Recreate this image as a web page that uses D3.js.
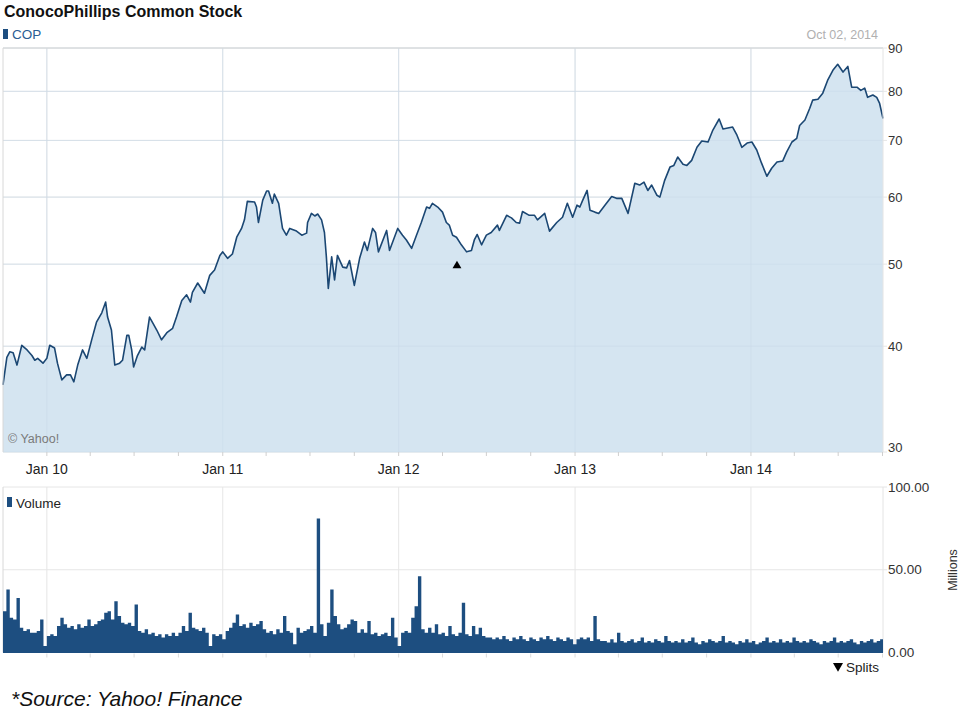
<!DOCTYPE html>
<html><head><meta charset="utf-8">
<script src="https://cdn.jsdelivr.net/npm/d3@7"></script>
<style>body{margin:0;background:#fff} svg{display:block} text{font-family:"Liberation Sans",Arial,sans-serif}</style>
</head><body><svg id="c" width="960" height="720"></svg>
<script>
// ---- Data ----
const priceDates = [
"2009-10-02","2009-10-10","2009-10-16","2009-10-23","2009-10-31","2009-11-10","2009-11-21","2009-12-01","2009-12-07","2009-12-13","2009-12-24",
"2010-01-01","2010-01-07","2010-01-17","2010-01-23","2010-02-01","2010-02-11","2010-02-19","2010-02-26","2010-03-06","2010-03-16","2010-03-25",
"2010-04-04","2010-04-14","2010-04-25","2010-05-03","2010-05-07","2010-05-15","2010-05-22","2010-06-01","2010-06-07","2010-06-16","2010-06-20",
"2010-06-26","2010-06-30","2010-07-08","2010-07-17","2010-07-23","2010-08-02","2010-08-09","2010-08-17","2010-08-27","2010-09-07","2010-09-19",
"2010-09-27","2010-10-08","2010-10-18","2010-10-26","2010-10-30","2010-11-10","2010-11-24","2010-12-05","2010-12-15","2010-12-26",
"2011-01-01","2011-01-11","2011-01-21","2011-01-30","2011-02-09","2011-02-15","2011-02-21","2011-03-08","2011-03-12","2011-03-16","2011-03-25",
"2011-04-02","2011-04-06","2011-04-14","2011-04-18","2011-04-27","2011-05-05","2011-05-13","2011-05-20","2011-06-03","2011-06-14","2011-06-24",
"2011-06-26","2011-07-04","2011-07-11","2011-07-17","2011-07-25","2011-07-31","2011-08-04","2011-08-08","2011-08-15","2011-08-21","2011-08-27",
"2011-09-07","2011-09-15","2011-09-21","2011-10-01","2011-10-12","2011-10-22","2011-10-28","2011-11-08","2011-11-14","2011-11-20","2011-12-07",
"2011-12-13","2011-12-30",
"2012-01-09","2012-01-17","2012-01-28","2012-02-07","2012-02-17","2012-02-28","2012-03-05","2012-03-11","2012-03-22","2012-04-01","2012-04-09",
"2012-04-15","2012-04-22","2012-04-30","2012-05-10","2012-05-21","2012-05-31","2012-06-06","2012-06-12","2012-06-21","2012-07-01","2012-07-11",
"2012-07-24","2012-07-28","2012-08-12","2012-08-22","2012-09-01","2012-09-08","2012-09-14","2012-09-28","2012-10-09","2012-10-15","2012-10-30",
"2012-11-09","2012-11-24","2012-12-06","2012-12-16","2012-12-27",
"2013-01-05","2013-01-11","2013-01-17","2013-01-26","2013-02-01","2013-02-11","2013-02-19","2013-03-04","2013-03-18","2013-03-28","2013-04-08",
"2013-04-21","2013-05-05","2013-05-15","2013-05-24","2013-06-01","2013-06-09","2013-06-20","2013-06-26","2013-07-06","2013-07-17","2013-07-25",
"2013-08-02","2013-08-13","2013-08-21","2013-08-31","2013-09-11","2013-09-21","2013-10-04","2013-10-14","2013-10-27","2013-11-04","2013-11-14",
"2013-11-24","2013-12-03","2013-12-13","2013-12-24",
"2014-01-03","2014-01-13","2014-01-23","2014-02-03","2014-02-13","2014-02-24","2014-03-08","2014-03-16","2014-03-27","2014-04-06","2014-04-12",
"2014-04-23","2014-05-03","2014-05-09","2014-05-20","2014-05-30","2014-06-09","2014-06-20","2014-06-30","2014-07-11","2014-07-21","2014-07-29",
"2014-08-09","2014-08-17","2014-08-25","2014-08-31","2014-09-11","2014-09-19","2014-09-25","2014-10-02"];
const priceValues = [
36.0,38.8,39.4,39.3,38.0,40.1,39.6,39.0,38.5,38.7,38.2,
38.7,40.1,39.8,38.2,36.5,37.0,37.0,36.3,38.0,39.6,38.7,
40.7,42.7,43.8,45.1,43.3,41.8,38.0,38.2,38.5,41.2,41.2,
39.6,37.8,39.0,39.9,39.6,43.3,42.6,41.8,40.7,41.5,42.0,
43.3,45.3,46.0,45.1,46.3,47.5,46.2,48.5,49.2,51.2,
51.7,50.8,51.4,53.8,55.1,56.4,59.3,59.2,58.4,56.0,59.5,
61.0,61.0,59.0,60.5,59.0,55.1,54.1,55.1,54.7,54.1,54.4,
56.0,57.4,57.0,57.3,56.4,54.5,51.0,46.8,51.0,47.9,51.2,
49.6,49.5,50.5,47.2,50.8,53.1,51.9,55.1,54.5,51.7,54.8,
51.9,55.1,
54.1,53.4,52.2,54.1,56.0,58.4,58.2,59.0,58.4,57.6,56.0,
55.6,54.1,53.8,52.7,51.7,51.9,53.4,54.2,52.7,54.1,54.5,
55.6,54.8,57.1,56.7,56.0,55.9,57.7,57.1,57.1,56.4,57.4,
54.7,56.0,56.8,59.0,56.8,
58.7,58.4,59.5,61.1,57.9,57.6,57.4,58.7,60.1,59.8,59.8,
57.4,62.3,62.0,62.5,61.1,62.0,60.3,60.0,62.8,65.1,65.4,
66.9,65.6,65.4,66.3,68.7,69.9,69.7,72.0,74.2,72.2,72.4,
72.6,71.0,68.7,69.5,
69.7,68.2,65.8,63.5,64.9,66.0,66.2,67.8,69.7,70.4,72.9,
74.0,76.4,78.1,78.3,79.6,82.4,84.7,86.1,84.3,85.6,80.9,
80.9,80.2,80.7,78.7,79.2,78.7,77.4,74.3];

// weekly volume (millions), one value per week starting at volumeStart
const volumeStart = "2009-10-02";
const volumeValues = [
25,38,21,20,33,15,13,14,12,12,13,20,4,
10,11,10,16,21,17,15,16,14,17,15,16,20,16,17,19,20,
24,25,20,31,22,18,17,18,16,29,13,12,14,11,12,10,11,9,11,10,12,10,12,
16,13,24,15,14,13,15,12,4,11,10,11,8,
13,15,18,23,16,17,15,18,16,17,19,14,12,13,11,14,12,22,13,12,5,15,12,13,14,16,12,
81,17,10,18,38,22,17,14,15,17,20,19,12,14,12,19,11,12,10,11,12,10,21,9,4,
12,13,12,21,28,46,14,12,15,12,17,11,12,10,16,11,10,12,30,11,10,16,11,15,10,9,
9,8,9,8,10,8,7,9,8,10,8,7,9,8,7,9,8,10,8,7,9,8,7,9,8,5,8,9,8,9,7,22,8,7,
7,6,8,6,12,7,6,7,8,6,7,9,6,7,6,8,7,6,10,7,6,7,6,8,6,7,9,6,5,7,6,8,7,6,7,10,6,7,6,5,
7,6,8,6,7,5,6,7,9,6,7,6,8,6,7,6,9,7,6,7,6,8,7,6,5,7,6,7,9,6,7,6,7,8,6,5,7,6,7,8,6,7,8];

const priceTicks = [30,40,50,60,70,80,90];
const volumeTicks = [0,50,100];
const xTickDates = ["2010-01-01","2011-01-01","2012-01-01","2013-01-01","2014-01-01"];
const xTickLabels = ["Jan 10","Jan 11","Jan 12","Jan 13","Jan 14"];
const domainDates = ["2009-10-02","2014-10-02"];
const spinoffDates = ["2012-05-01"];

// ---- Chart ----
const parse = d3.timeParse("%Y-%m-%d");
const svg = d3.select("#c");
const L = 3, R = 883, T = 48, B = 452, VT = 487, VB = 652.5;
const x = d3.scaleTime().domain(domainDates.map(parse)).range([L, R]);
const y = d3.scaleLog().domain([30, 90]).range([B, T]);
const yv = d3.scaleLinear().domain([0, 100]).range([VB, VT]);

const price = priceDates.map((d, i) => ({date: parse(d), v: priceValues[i]}));
const vStart = parse(volumeStart);
const vol = volumeValues.map((v, i) => ({date: d3.timeDay.offset(vStart, 7 * i), v}));
const volStep = vol.concat([{date: x.domain()[1], v: vol[vol.length - 1].v}]);

const gridC = "#e6e6e6", frameC = "#d8d8d8", navy = "#1d4e80";

// title & legend
svg.append("text").attr("x", 4).attr("y", 17).attr("font-size", 16).attr("font-weight", "bold").attr("fill", "#111").text("ConocoPhillips Common Stock");
svg.append("rect").attr("x", 3).attr("y", 29).attr("width", 5).attr("height", 10).attr("fill", navy);
svg.append("text").attr("x", 12).attr("y", 38.5).attr("font-size", 13.5).attr("fill", "#2a5d93").text("COP");
svg.append("text").attr("x", 878).attr("y", 39).attr("font-size", 12.5).attr("fill", "#b0b0b0").attr("text-anchor", "end").text("Oct 02, 2014");

// main panel grid
const main = svg.append("g");
main.selectAll(".hg").data(priceTicks).join("line")
  .attr("x1", L).attr("x2", R + 4).attr("y1", d => y(d)).attr("y2", d => y(d)).attr("stroke", gridC);
main.selectAll(".vg").data(xTickDates).join("line")
  .attr("x1", d => x(parse(d))).attr("x2", d => x(parse(d))).attr("y1", T).attr("y2", B).attr("stroke", gridC);

// area + line
const area = d3.area().x(d => x(d.date)).y0(B).y1(d => y(d.v));
const line = d3.line().x(d => x(d.date)).y(d => y(d.v));
main.append("path").datum(price).attr("d", area).attr("fill", "#d5e5f1");
main.selectAll(".hg2").data(priceTicks).join("line")
  .attr("x1", L).attr("x2", R).attr("y1", d => y(d)).attr("y2", d => y(d)).attr("stroke", "#c9dbe9").attr("stroke-opacity", 0.6);
main.selectAll(".vg2").data(xTickDates).join("line")
  .attr("x1", d => x(parse(d))).attr("x2", d => x(parse(d))).attr("y1", T).attr("y2", B).attr("stroke", "#c9dbe9").attr("stroke-opacity", 0.6);
main.append("path").datum(price).attr("d", line).attr("fill", "none").attr("stroke", "#1b4773").attr("stroke-width", 1.6).attr("stroke-linejoin", "round");

// frame
main.append("line").attr("x1", L).attr("x2", R).attr("y1", T).attr("y2", T).attr("stroke", frameC);
main.append("line").attr("x1", L).attr("x2", L).attr("y1", T).attr("y2", B).attr("stroke", frameC);
main.append("line").attr("x1", R).attr("x2", R).attr("y1", T).attr("y2", B).attr("stroke", "#e4e4e4");

// quarterly minor ticks
const quarters = d3.timeMonth.every(3).range(x.domain()[0], x.domain()[1]);
main.selectAll(".qt").data(quarters).join("line")
  .attr("x1", d => x(d)).attr("x2", d => x(d)).attr("y1", B).attr("y2", B + 4).attr("stroke", "#cfcfcf");

// y labels (price)
main.selectAll(".yl").data(priceTicks).join("text")
  .attr("x", 888).attr("y", d => Math.min(y(d), B - 5) + 4.5).attr("font-size", 13).attr("fill", "#333").text(d => d);

// x labels
main.selectAll(".xl").data(xTickDates).join("text")
  .attr("x", d => x(parse(d))).attr("y", 474).attr("font-size", 14).attr("fill", "#222").attr("text-anchor", "middle")
  .text((d, i) => xTickLabels[i]);

// © Yahoo!
svg.append("text").attr("x", 8).attr("y", 443).attr("font-size", 12.5).attr("fill", "#7a7a7a").text("© Yahoo!");

// spin-off marker
main.selectAll(".sp").data(spinoffDates).join("path")
  .attr("d", d3.symbol(d3.symbolTriangle, 34))
  .attr("transform", d => {
    const dt = parse(d);
    const i = d3.bisector(p => p.date).left(price, dt);
    return `translate(${x(dt)},${y(price[Math.min(i, price.length - 1)].v) + 21})`;
  })
  .attr("fill", "#000");

// ---- Volume panel ----
const vg = svg.append("g");
vg.selectAll(".vhg").data(volumeTicks.filter(d => d > 0)).join("line")
  .attr("x1", L).attr("x2", R + 4).attr("y1", d => yv(d)).attr("y2", d => yv(d)).attr("stroke", gridC);
vg.selectAll(".vvg").data(xTickDates).join("line")
  .attr("x1", d => x(parse(d))).attr("x2", d => x(parse(d))).attr("y1", VT).attr("y2", VB).attr("stroke", gridC);
vg.append("line").attr("x1", L).attr("x2", L).attr("y1", VT).attr("y2", VB).attr("stroke", frameC);
vg.append("line").attr("x1", R).attr("x2", R).attr("y1", VT).attr("y2", VB).attr("stroke", "#e4e4e4");

const volArea = d3.area().curve(d3.curveStepAfter).x(d => x(d.date)).y0(VB).y1(d => yv(d.v));
vg.append("path").datum(volStep).attr("d", volArea).attr("fill", navy);
vg.append("line").attr("x1", L).attr("x2", R).attr("y1", VB).attr("y2", VB).attr("stroke", navy);

vg.selectAll(".vq").data(quarters).join("line")
  .attr("x1", d => x(d)).attr("x2", d => x(d)).attr("y1", VB + 1).attr("y2", VB + 5).attr("stroke", "#dcdcdc");

vg.selectAll(".vl").data(volumeTicks).join("text")
  .attr("x", 888).attr("y", d => yv(d) + 4.5).attr("font-size", 13.5).attr("fill", "#333").text(d => d3.format(".2f")(d));

svg.append("rect").attr("x", 7).attr("y", 497).attr("width", 5).attr("height", 10).attr("fill", navy);
svg.append("text").attr("x", 16).attr("y", 508).attr("font-size", 13.5).attr("fill", "#222").text("Volume");
svg.append("text").attr("transform", "translate(957,570) rotate(-90)").attr("text-anchor", "middle")
  .attr("font-size", 12.5).attr("fill", "#333").text("Millions");

// splits legend
svg.append("path").attr("d", d3.symbol(d3.symbolTriangle, 44)).attr("transform", "translate(838,666) rotate(180)").attr("fill", "#000");
svg.append("text").attr("x", 846).attr("y", 672).attr("font-size", 13.5).attr("fill", "#222").text("Splits");

// source
svg.append("text").attr("x", 11).attr("y", 706).attr("font-size", 21).attr("font-style", "italic")
  .attr("font-family", "Lato, 'Open Sans', sans-serif").attr("fill", "#111").text("*Source: Yahoo! Finance");
</script></body></html>
